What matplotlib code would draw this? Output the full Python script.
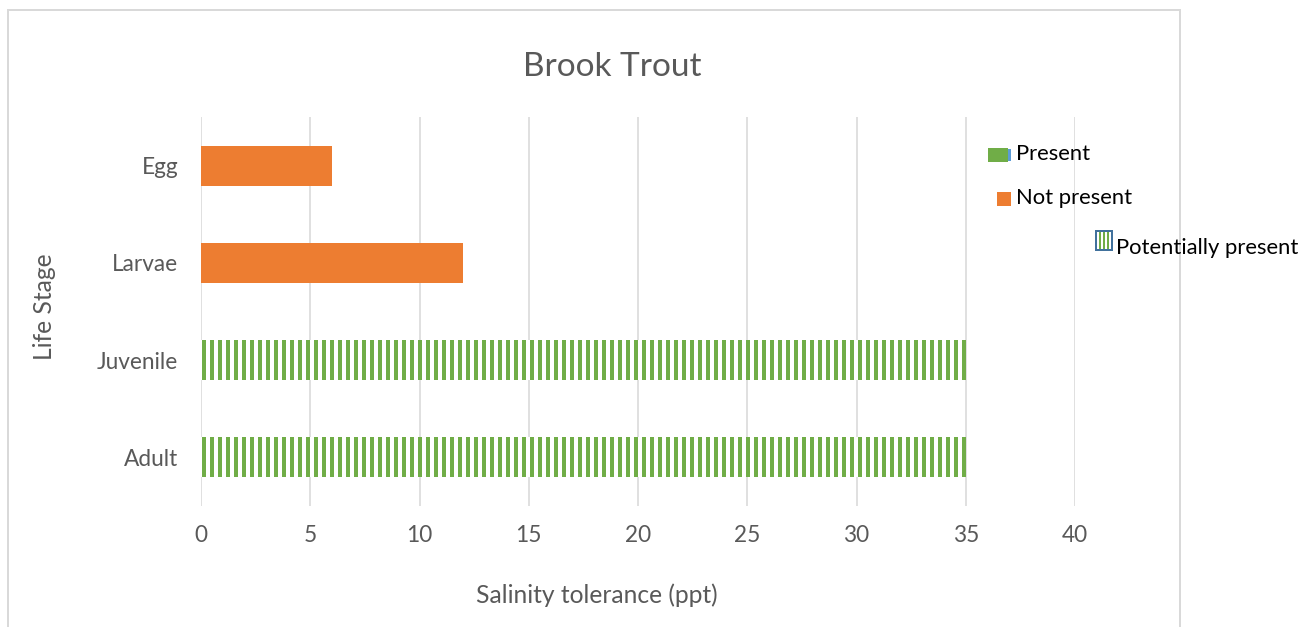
import matplotlib
matplotlib.use('Agg')
import matplotlib.pyplot as plt
from matplotlib.patches import Rectangle
from matplotlib.lines import Line2D

# data
stages = ['Adult', 'Juvenile', 'Larvae', 'Egg']
tolerance = [35, 35, 12, 6]
status = ['Potentially present', 'Potentially present', 'Not present', 'Not present']
xticks = [0, 5, 10, 15, 20, 25, 30, 35, 40]

green = '#70AD47'
orange = '#ED7D31'
blue = '#5B9BD5'
grid_col = '#D9D9D9'
txt_col = '#595959'

plt.rcParams['font.family'] = ['Lato', 'DejaVu Sans']
plt.rcParams['hatch.linewidth'] = 3.0
plt.rcParams['hatch.color'] = green

W, H, dpi = 1302, 627, 96
fig = plt.figure(figsize=(W / dpi, H / dpi), dpi=dpi)
ax = fig.add_axes([201 / W, 1 - 506 / H, 874 / W, 389 / H])

y = list(range(len(stages)))
for yi, val, st in zip(y, tolerance, status):
    if st == 'Not present':
        ax.barh(yi, val, height=0.41, color=orange, linewidth=0, zorder=3)
    else:
        ax.barh(yi, val, height=0.41, facecolor='white', edgecolor=green,
                hatch='||', linewidth=0, zorder=3)

ax.set_xlim(0, 40)
ax.set_ylim(-0.5, len(stages) - 0.5)
ax.set_xticks(xticks)
ax.set_yticks(y)
ax.set_yticklabels(stages)
ax.tick_params(length=0, labelsize=17, labelcolor=txt_col)
ax.tick_params(axis='x', pad=14)
ax.tick_params(axis='y', pad=17)
ax.grid(axis='x', color=grid_col, linewidth=1.2, zorder=0)
ax.set_axisbelow(True)
for s in ax.spines.values():
    s.set_visible(False)

fig.text(612 / W, 1 - 67 / H, 'Brook Trout', fontsize=25, color=txt_col,
         ha='center', va='center')
fig.text(597 / W, 1 - 595 / H, 'Salinity tolerance (ppt)', fontsize=18.5,
         color=txt_col, ha='center', va='center')
fig.text(45 / W, 1 - 307 / H, 'Life Stage', fontsize=18.5, color=txt_col,
         ha='center', va='center', rotation=90)

# legend drawn by hand, entries are offset like in the original
def px_rect(x0, y0, x1, y1, **kw):
    r = Rectangle((x0 / W, 1 - y1 / H), (x1 - x0) / W, (y1 - y0) / H,
                  transform=fig.transFigure, **kw)
    fig.add_artist(r)

px_rect(1006, 149, 1011, 161, facecolor=blue, linewidth=0)
px_rect(988, 148, 1008, 162, facecolor=green, linewidth=0)
fig.text(1016 / W, 1 - 154 / H, 'Present', fontsize=16.5, color='black',
         ha='left', va='center')
px_rect(997, 192, 1011, 206, facecolor=orange, linewidth=0)
fig.text(1016 / W, 1 - 198 / H, 'Not present', fontsize=16.5, color='black',
         ha='left', va='center')
px_rect(1096, 231, 1112, 250, facecolor='white', linewidth=0)
for sx in [1098.5, 1102.5, 1106.5]:
    px_rect(sx, 232, sx + 2.2, 249, facecolor=green, linewidth=0)
px_rect(1096, 231, 1112, 250, facecolor='none', edgecolor='#41719C',
        linewidth=1.5)
fig.text(1116 / W, 1 - 248 / H, 'Potentially present', fontsize=16.5,
         color='black', ha='left', va='center')

# chart border (bottom edge is outside the image)
for xs, ys in [([8, 8], [10, 640]), ([8, 1180], [10, 10]), ([1180, 1180], [10, 640])]:
    fig.add_artist(Line2D([v / W for v in xs], [1 - v / H for v in ys],
                          transform=fig.transFigure, color=grid_col, linewidth=1.5))

fig.savefig('out.png', dpi=dpi)
